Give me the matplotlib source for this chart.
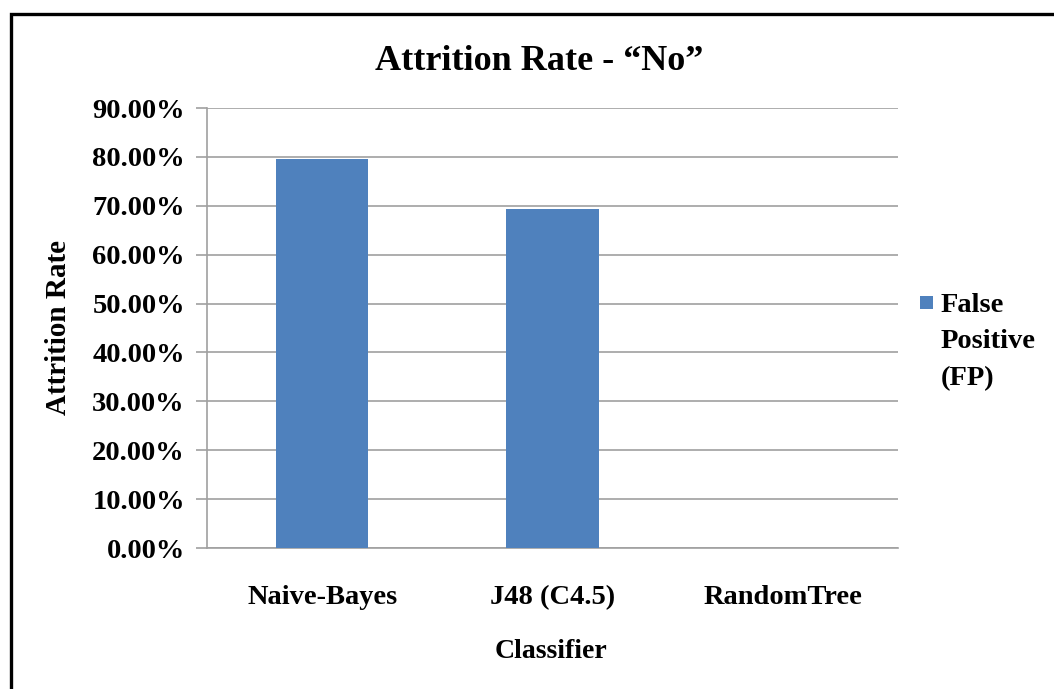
import matplotlib
matplotlib.use("Agg")
import matplotlib.pyplot as plt
from matplotlib.patches import Rectangle
from matplotlib.ticker import FuncFormatter
import numpy as np

categories = ["Naive-Bayes", "J48 (C4.5)", "RandomTree"]
false_positive = [0.795, 0.693, 0.0]
yticks = [0.0, 0.1, 0.2, 0.3, 0.4, 0.5, 0.6, 0.7, 0.8, 0.9]
series_name = "False\nPositive\n(FP)"
title = "Attrition Rate - \u201cNo\u201d"

W, H = 1054, 689
fig = plt.figure(figsize=(W / 100, H / 100), dpi=100)
fig.patch.set_facecolor("white")

font = "Liberation Serif"

# outer frame
fig.patches.append(Rectangle((10.5 / W, -0.05), 1.2, 1 - 13.5 / H + 0.05, transform=fig.transFigure,
                             fill=False, edgecolor="black", linewidth=2.4, clip_on=False))

ax = fig.add_axes([207 / W, (H - 548) / H, 691 / W, 440 / H])
x = np.arange(len(categories))
ax.bar(x, false_positive, width=0.4, color="#4F81BD", zorder=3)
ax.set_xlim(-0.5, len(categories) - 0.5)
ax.set_ylim(0, 0.9)
ax.set_yticks(yticks)
ax.yaxis.set_major_formatter(FuncFormatter(lambda v, p: f"{v*100:.2f}%"))
ax.grid(axis="y", color="#A0A0A0", linewidth=1.2, zorder=0)
for s in ["top", "right"]:
    ax.spines[s].set_visible(False)
ax.spines["left"].set_color("#A0A0A0")
ax.spines["bottom"].set_color("#A0A0A0")
ax.spines["left"].set_linewidth(1.2)
ax.spines["bottom"].set_linewidth(1.2)
ax.tick_params(axis="y", length=8, color="#A0A0A0", width=1.2, pad=8)
ax.tick_params(axis="x", length=0, pad=27)
ax.set_xticks(x)
ax.set_xticklabels(categories)
for lab in ax.get_yticklabels() + ax.get_xticklabels():
    lab.set_fontfamily(font)
    lab.set_fontweight("bold")
for lab in ax.get_yticklabels():
    lab.set_fontsize(20.5)
for lab in ax.get_xticklabels():
    lab.set_fontsize(20.5)

fig.text(539 / W, 1 - 61 / H, title, ha="center", va="center", fontsize=26,
         fontfamily=font, fontweight="bold")
fig.text(58 / W, 1 - 327 / H, "Attrition Rate", ha="center", va="center", rotation=90,
         fontsize=21, fontfamily=font, fontweight="bold")
fig.text(551 / W, 1 - 651 / H, "Classifier", ha="center", va="center",
         fontsize=20, fontfamily=font, fontweight="bold")

# legend
fig.patches.append(Rectangle((920 / W, 1 - 309 / H), 13 / W, 13 / H, transform=fig.transFigure,
                             facecolor="#4F81BD", edgecolor="none"))
fig.text(941 / W, 1 - 342 / H, series_name, ha="left", va="center", fontsize=20.5,
         fontfamily=font, fontweight="bold", linespacing=1.62)

fig.savefig("out.png", dpi=100)
